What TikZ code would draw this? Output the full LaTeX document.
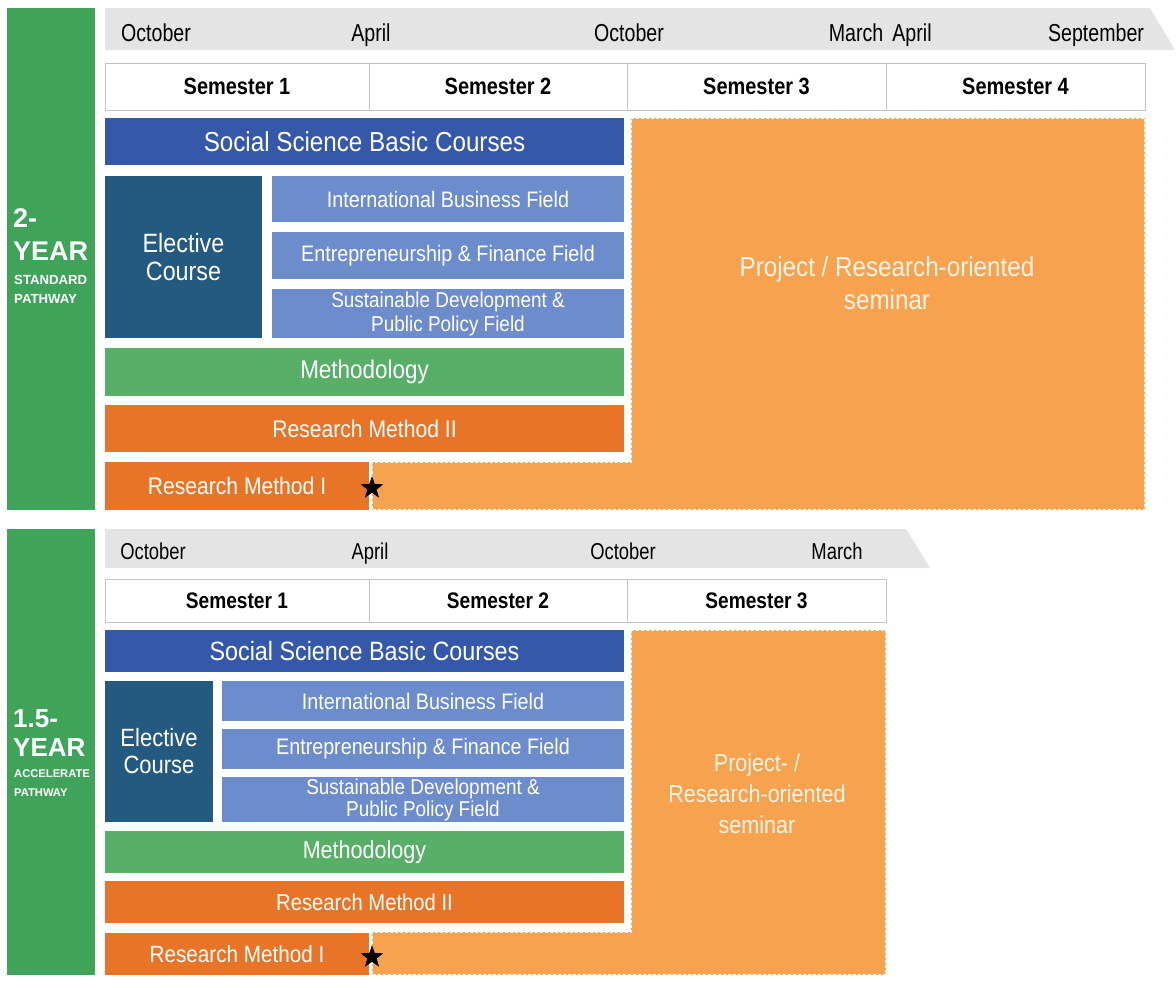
\documentclass[tikz,border=0pt]{standalone}
\usepackage{fontspec}
\setmainfont{Liberation Sans}
\newfontfamily\cond{Liberation Sans}[FakeStretch=0.88]
\newfontfamily\narrow{Liberation Sans}[FakeStretch=0.8]
\newfontfamily\semfont{Liberation Sans}[FakeStretch=0.85]
\usetikzlibrary{shapes.geometric}
\newcommand\fs[2]{\fontsize{#1}{#2}\selectfont}
% \blk{style}{name}{x1}{y1}{x2}{y2}{text}
\newcommand\blk[7]{\node[#1,minimum width={(#5-#3)*1pt},minimum height={(#6-#4)*1pt}] (#2) at ({(#3+#5)/2},{(#4+#6)/2}) {#7};}
\definecolor{pathC}{HTML}{3FA45A}
\definecolor{bandC}{HTML}{E4E4E4}
\definecolor{cellB}{HTML}{C4C4C4}
\definecolor{ssbC}{HTML}{3558A8}
\definecolor{elecC}{HTML}{245A80}
\definecolor{fieldC}{HTML}{6D8CCB}
\definecolor{methC}{HTML}{58AF68}
\definecolor{rmC}{HTML}{E87428}
\definecolor{semC}{HTML}{F7A24F}
\definecolor{semT}{HTML}{FFF5E8}
\begin{document}
\begin{tikzpicture}[x=1pt,y=-1pt,
  box/.style={inner sep=0pt,outer sep=0pt,text=white,align=center},
  pathbar/.style={box,fill=pathC},
  pathtxt/.style={inner sep=0pt,text=white,anchor=base west,font=\bfseries},
  month/.style={inner sep=0pt,anchor=base,text=black},
  semcell/.style={box,fill=white,draw=cellB,line width=0.8pt,text=black},
  ssb/.style={box,fill=ssbC},
  elec/.style={box,fill=elecC},
  field/.style={box,fill=fieldC},
  meth/.style={box,fill=methC},
  rm/.style={box,fill=rmC},
  seminar/.style={fill=semC,draw=white,line width=1.3pt,dash pattern=on 3pt off 2pt},
  semtxt/.style={inner sep=0pt,text=semT,align=center},
  mark5/.style={star,star points=5,star point ratio=2.5,fill=black,inner sep=0pt,minimum size=24pt}
]
\useasboundingbox (0,0) rectangle (1176,988);
\fill[white] (0,0) rectangle (1176,988);

% ================= TOP: 2-YEAR =================
\blk{pathbar}{barA}{7}{8}{95}{510}{}
\node[pathtxt,font=\bfseries\fs{27}{30}] (twoA) at (13,227) {2-};
\node[pathtxt,font=\bfseries\fs{27}{30}] (yearA) at (13,260) {YEAR};
\node[pathtxt,font=\bfseries\fs{13.2}{15}] (stdA) at (14,284) {STANDARD};
\node[pathtxt,font=\bfseries\fs{13.2}{15}] (pwA) at (14,303) {PATHWAY};

\fill[bandC] (105,8) -- (1150,8) -- (1175,50) -- (105,50) -- cycle;
\node[month,font=\narrow\fs{24.5}{27}] (mA1) at (156,41) {October};
\node[month,font=\narrow\fs{24.5}{27}] (mA2) at (371,41) {April};
\node[month,font=\narrow\fs{24.5}{27}] (mA3) at (629,41) {October};
\node[month,font=\narrow\fs{24.5}{27}] (mA4) at (856,41) {March};
\node[month,font=\narrow\fs{24.5}{27}] (mA5) at (912,41) {April};
\node[month,font=\narrow\fs{24.5}{27}] (mA6) at (1096,41) {September};

\blk{semcell,font=\semfont\bfseries\fs{23.5}{26}}{sA1}{105}{63}{369}{110}{Semester 1}
\blk{semcell,font=\semfont\bfseries\fs{23.5}{26}}{sA2}{369}{63}{627}{110}{Semester 2}
\blk{semcell,font=\semfont\bfseries\fs{23.5}{26}}{sA3}{627}{63}{886}{110}{Semester 3}
\blk{semcell,font=\semfont\bfseries\fs{23.5}{26}}{sA4}{886}{63}{1145}{110}{Semester 4}

\blk{ssb,font=\cond\fs{27.5}{30}}{ssbA}{105}{118}{624}{165}{Social Science Basic Courses}
\blk{elec,font=\cond\fs{26.5}{28}}{elecA}{105}{176}{262}{338}{Elective\\Course}
\blk{field,font=\cond\fs{22.4}{24}}{fA1}{272}{176}{624}{222}{International Business Field}
\blk{field,font=\cond\fs{22.4}{24}}{fA2}{272}{232}{624}{279}{Entrepreneurship \& Finance Field}
\blk{field,font=\cond\fs{21.5}{24}}{fA3}{272}{289}{624}{338}{Sustainable Development \&\\Public Policy Field}
\blk{meth,font=\cond\fs{25.5}{28}}{methA}{105}{348}{624}{396}{Methodology}
\blk{rm,font=\cond\fs{24}{27}}{rm2A}{105}{405}{624}{452}{Research Method II}
\blk{rm,font=\cond\fs{24}{27}}{rm1A}{105}{462}{369}{510}{Research Method I}

\draw[seminar] (631,118) -- (1145,118) -- (1145,510) -- (372,510) -- (372,462) -- (631,462) -- cycle;
\node[semtxt,font=\cond\fs{27.5}{33}] (semA) at (887,283) {Project / Research-oriented\\seminar};
\node[mark5] (starA) at (372,488) {};

% ================= BOTTOM: 1.5-YEAR =================
\blk{pathbar}{barB}{7}{529}{95}{975}{}
\node[pathtxt,font=\bfseries\fs{26}{29}] (twoB) at (13,727) {1.5-};
\node[pathtxt,font=\bfseries\fs{26}{29}] (yearB) at (13,756) {YEAR};
\node[pathtxt,font=\bfseries\fs{11.2}{13}] (accB) at (14,777) {ACCELERATE};
\node[pathtxt,font=\bfseries\fs{11.2}{13}] (pwB) at (14,796) {PATHWAY};

\fill[bandC] (105,529) -- (906,529) -- (930,568) -- (105,568) -- cycle;
\node[month,font=\narrow\fs{23}{26}] (mB1) at (153,559) {October};
\node[month,font=\narrow\fs{23}{26}] (mB2) at (370,559) {April};
\node[month,font=\narrow\fs{23}{26}] (mB3) at (623,559) {October};
\node[month,font=\narrow\fs{23}{26}] (mB4) at (837,559) {March};

\blk{semcell,font=\semfont\bfseries\fs{22.5}{25}}{sB1}{105}{579}{369}{622}{Semester 1}
\blk{semcell,font=\semfont\bfseries\fs{22.5}{25}}{sB2}{369}{579}{627}{622}{Semester 2}
\blk{semcell,font=\semfont\bfseries\fs{22.5}{25}}{sB3}{627}{579}{886}{622}{Semester 3}

\blk{ssb,font=\cond\fs{26.5}{29}}{ssbB}{105}{630}{624}{672}{Social Science Basic Courses}
\blk{elec,font=\cond\fs{25}{27}}{elecB}{105}{681}{213}{822}{Elective\\Course}
\blk{field,font=\cond\fs{22.4}{24}}{fB1}{222}{681}{624}{721}{International Business Field}
\blk{field,font=\cond\fs{22.4}{24}}{fB2}{222}{729}{624}{769}{Entrepreneurship \& Finance Field}
\blk{field,font=\cond\fs{21.5}{22}}{fB3}{222}{777}{624}{822}{Sustainable Development \&\\Public Policy Field}
\blk{meth,font=\cond\fs{24.5}{27}}{methB}{105}{831}{624}{873}{Methodology}
\blk{rm,font=\cond\fs{23}{26}}{rm2B}{105}{881}{624}{923}{Research Method II}
\blk{rm,font=\cond\fs{23.5}{26}}{rm1B}{105}{933}{369}{975}{Research Method I}

\draw[seminar] (631,630) -- (886,630) -- (886,975) -- (372,975) -- (372,932) -- (631,932) -- cycle;
\node[semtxt,font=\cond\fs{24.5}{31}] (semB) at (757,794) {Project- /\\Research-oriented\\seminar};
\node[mark5] (starB) at (372,957) {};
\end{tikzpicture}
\end{document}
